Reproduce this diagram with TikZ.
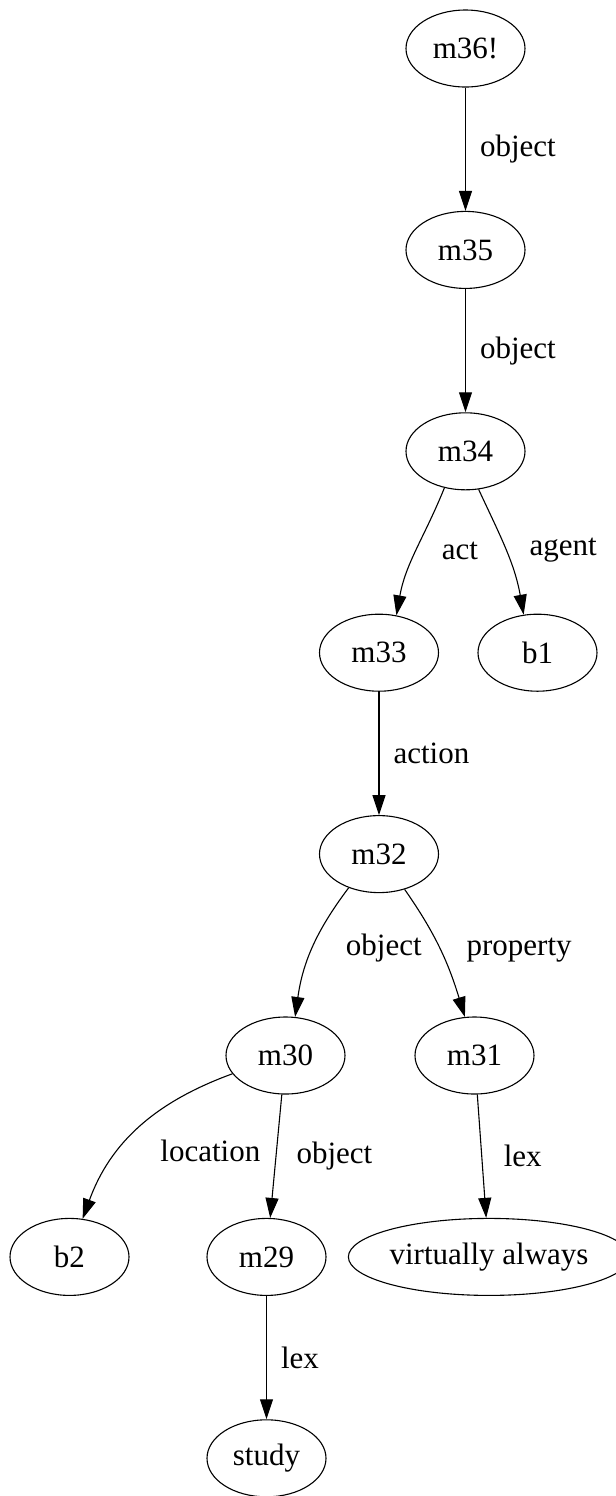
\documentclass[tikz,border=0pt]{standalone}
\usepackage{fontspec}
\setmainfont{Liberation Serif}
\usetikzlibrary{shapes.geometric, arrows.meta, positioning}
\tikzset{
>={Triangle[length=10pt, width=6.5pt]}, % narrow filled arrow heads
every edge/.style={draw, ->, line width=0.55pt}, % makes the arcs directed
node distance=100.7pt, % centre to centre distance between two levels
snode/.style={ellipse, draw=black, line width=0.55pt, minimum width=59.5pt, minimum height=38.5pt, inner sep=0pt, font=\fontsize{15.5}{18}\selectfont}, % every node of the network
arclabel/.style={right, inner sep=7pt, font=\fontsize{15.5}{18}\selectfont}, % the relation written next to an arc
}

\begin{document}
\begin{tikzpicture}
      \useasboundingbox (0,0) rectangle (308pt,-748pt);

      \node[snode] (m36) at (232.75pt,-24.25pt) {m36!};
      \node[snode, below of=m36] (m35) {m35};
      \node[snode, below of=m35] (m34) {m34};
      \node[snode, below of=m34, xshift=-43.25pt] (m33) {m33};
      \node[snode, below of=m34, xshift=36pt] (b1) {b1};
      \node[snode, below of=m33] (m32) {m32};
      \node[snode, below of=m32, xshift=-46.75pt] (m30) {m30};
      \node[snode, below of=m32, xshift=47.75pt] (m31) {m31};
      \node[snode, below of=m30, xshift=-108pt] (b2) {b2};
      \node[snode, below of=m30, xshift=-9.5pt] (m29) {m29};
      \node[snode, below of=m31, xshift=7.25pt, minimum width=126pt] (va) {virtually always};
      \node[snode, below of=m29] (study) {study};

      \path (m36) edge node[arclabel] (obj1) {object} (m35)
      (m35) edge node[arclabel] (obj2) {object} (m34)
      (m34.240) edge[out=-112, in=80] node[arclabel, xshift=5.5pt] (act) {act} (m33.65)
      (m34.-71) edge[out=-65, in=100] node[arclabel, xshift=4.5pt] (agent) {agent} (b1.110)
      (m33) edge node[arclabel] (action) {action} (m32)
      (m32.-132) edge[out=-127, in=82] node[arclabel, xshift=9.5pt] (obj3) {object} (m30.76)
      (m32.-54) edge[out=-55, in=107] node[arclabel, xshift=5.75pt] (prop) {property} (m31.104)
      (m30.-161) edge[out=-160, in=70] node[arclabel, pos=0.65, xshift=13.5pt] (loc) {location} (b2.71)
      (m30) edge node[arclabel, xshift=3pt] (obj4) {object} (m29)
      (m31) edge node[arclabel, xshift=3.75pt] (lex1) {lex} (va)
      (m29) edge node[arclabel] (lex2) {lex} (study);
    \end{tikzpicture}
\end{document}
